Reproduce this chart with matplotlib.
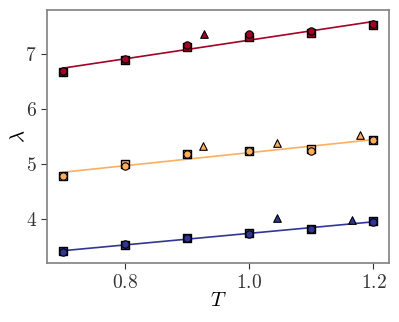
import numpy as np
import matplotlib
matplotlib.use('Agg')
import matplotlib.pyplot as plt

# Data
T_grid = [0.7, 0.8, 0.9, 1.0, 1.1, 1.2]

red_sq = [6.67, 6.89, 7.12, 7.30, 7.37, 7.51]
red_ci = [6.68, 6.90, 7.15, 7.36, 7.40, 7.54]
red_tri_T = [0.928]
red_tri = [7.36]

orange_sq = [4.78, 5.00, 5.19, 5.24, 5.27, 5.44]
orange_ci = [4.78, 4.97, 5.19, 5.23, 5.23, 5.44]
orange_tri_T = [0.926, 1.045, 1.179]
orange_tri = [5.32, 5.385, 5.53]

blue_sq = [3.42, 3.54, 3.66, 3.75, 3.83, 3.97]
blue_ci = [3.41, 3.55, 3.66, 3.74, 3.83, 3.95]
blue_tri_T = [1.045, 1.166]
blue_tri = [4.02, 3.99]

RED = '#a50026'
ORANGE = '#fdae61'
BLUE = '#313695'

plt.rcParams['font.family'] = 'cmr10'
plt.rcParams['mathtext.fontset'] = 'cm'
plt.rcParams['axes.formatter.use_mathtext'] = True

fig = plt.figure(figsize=(3.99, 3.22), dpi=100)
ax = fig.add_axes([0.118, 0.182, 0.857, 0.787])

T = np.array(T_grid)
groups = [(red_sq, red_ci, red_tri_T, red_tri, RED),
          (orange_sq, orange_ci, orange_tri_T, orange_tri, ORANGE),
          (blue_sq, blue_ci, blue_tri_T, blue_tri, BLUE)]

for sq, ci, tri_T, tri, col in groups:
    # linear fit through squares and circles
    xs = np.concatenate([T, T])
    ys = np.concatenate([sq, ci])
    k, b = np.polyfit(xs, ys, 1)
    ax.plot(T, k * T + b, color=col, lw=1.2, zorder=1)
    ax.scatter(T, sq, marker='s', s=30, color=col, edgecolor='black', lw=1, zorder=2)
    ax.scatter(T, ci, marker='o', s=28, color=col, edgecolor='black', lw=0.8, zorder=3)
    ax.scatter(tri_T, tri, marker='^', s=30, color=col, edgecolor='black', lw=0.8, zorder=3)

ax.set_xticks([0.8, 1.0, 1.2])
ax.set_yticks([4, 5, 6, 7])
ax.set_xlabel(r'$T$', fontsize=15, labelpad=0)
ax.set_ylabel(r'$\lambda$', fontsize=15, labelpad=-2)
ax.tick_params(labelsize=14, colors='#333333', length=4)
for s in ax.spines.values():
    s.set_color('#808080')
    s.set_linewidth(1.2)

plt.savefig('out.png', dpi=100)
